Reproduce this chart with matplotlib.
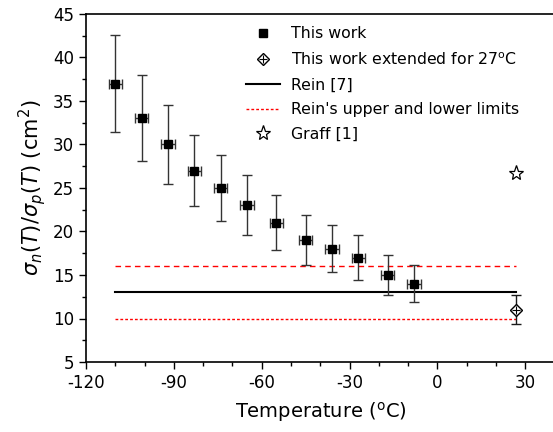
import matplotlib
matplotlib.use("Agg")
import matplotlib.pyplot as plt
from matplotlib.lines import Line2D
from matplotlib.ticker import MultipleLocator

plt.rcParams["font.family"] = ["DejaVu Sans"]
plt.rcParams["mathtext.fontset"] = "dejavusans"
plt.rcParams["axes.unicode_minus"] = False

# Measured capture-cross-section ratio vs temperature
temp_c = [-110, -101, -92, -83, -74, -65, -55, -45, -36, -27, -17, -8]
ratio = [37, 33, 30, 27, 25, 23, 21, 19, 18, 17, 15, 14]
rel_err = 0.15
temp_err = 2.3

# Extension of this work to room temperature
ext_temp = [27]
ext_ratio = [11]

# Reference values
rein_value = 13
rein_upper = 16
rein_lower = 10
rein_span = [-110, 27]
graff_temp = [27]
graff_ratio = [26.7]

fig = plt.figure(figsize=(5.53, 4.32), dpi=100)
ax = fig.add_axes([86 / 553, 1 - 362 / 432, (556 - 86) / 553, (362 - 14) / 432])

ax.errorbar(temp_c, ratio,
            yerr=[r * rel_err for r in ratio], xerr=temp_err,
            fmt="s", color="black", ms=6, ecolor="0.2", elinewidth=1.0,
            capsize=3.5, capthick=1.0, zorder=3)

ax.errorbar(ext_temp, ext_ratio,
            yerr=[r * rel_err for r in ext_ratio],
            fmt="none", ecolor="0.1", elinewidth=1.0, capsize=3.5, capthick=1.0, zorder=3)
ax.plot(ext_temp, ext_ratio, "D", mfc="white", mec="black", ms=6, mew=1.0, zorder=4)
ax.plot(ext_temp, ext_ratio, "+", color="black", ms=6, mew=0.8, zorder=5)

ax.plot(rein_span, [rein_value] * 2, color="black", lw=1.5, zorder=2)
ax.plot(rein_span, [rein_upper] * 2, color="red", lw=1.0, ls=(0, (4, 3)), zorder=2)
ax.plot(rein_span, [rein_lower] * 2, color="red", lw=1.0, ls=(0, (2, 1.5)), zorder=2)

ax.plot(graff_temp, graff_ratio, "*", mfc="white", mec="black", ms=11, mew=0.9, zorder=4)

ax.set_xlim(-120, 40.5)
ax.set_ylim(5, 45)
ax.xaxis.set_major_locator(MultipleLocator(30))
ax.xaxis.set_minor_locator(MultipleLocator(10))
ax.yaxis.set_major_locator(MultipleLocator(5))
ax.yaxis.set_minor_locator(MultipleLocator(2.5))
ax.tick_params(which="major", direction="out", length=5, width=1, labelsize=12)
ax.tick_params(which="minor", direction="out", length=3, width=1)
for s in ax.spines.values():
    s.set_linewidth(1.2)

ax.set_xlabel(r"Temperature ($^{\mathrm{o}}$C)", fontsize=14, labelpad=6)
ax.set_ylabel(r"$\sigma_n(T)/\sigma_p(T)$ (cm$^2$)", fontsize=15, labelpad=4)

h_work = Line2D([], [], ls="none", marker="s", color="black", ms=6)
h_ext_d = Line2D([], [], ls="none", marker="D", mfc="white", mec="black", ms=6)
h_ext_p = Line2D([], [], ls="none", marker="+", color="black", ms=6, mew=0.8)
h_rein = Line2D([], [], color="black", lw=1.5)
h_lim = Line2D([], [], color="red", lw=1.0, ls=(0, (2, 1.5)))
h_graff = Line2D([], [], ls="none", marker="*", mfc="white", mec="black", ms=11, mew=0.9)
ax.legend([h_work, (h_ext_d, h_ext_p), h_rein, h_lim, h_graff],
          ["This work", r"This work extended for 27$^{\mathrm{o}}$C", "Rein [7]",
           "Rein's upper and lower limits", "Graff [1]"],
          loc="upper left", bbox_to_anchor=(0.31, 1.005), frameon=False,
          fontsize=11.3, handlelength=2.2, handletextpad=0.7, labelspacing=0.62)

fig.savefig("out.png", dpi=100)
